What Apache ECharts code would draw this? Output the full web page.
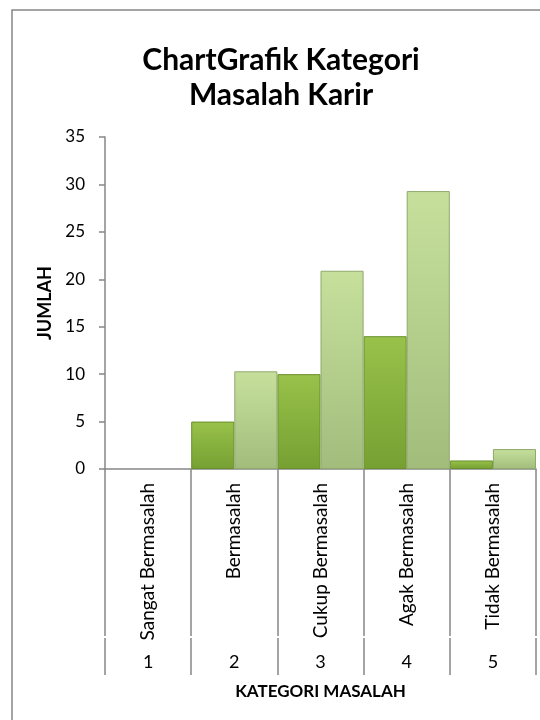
<!DOCTYPE html>
<html>
<head>
<meta charset="utf-8">
<script src="https://cdn.jsdelivr.net/npm/echarts@6/dist/echarts.min.js"></script>
<style>
html,body{margin:0;padding:0;background:#fff;}
#chart{width:540px;height:720px;}
</style>
</head>
<body>
<div id="chart"></div>
<script>
var categoryNames = ['Sangat Bermasalah', 'Bermasalah', 'Cukup Bermasalah', 'Agak Bermasalah', 'Tidak Bermasalah'];
var categoryNumbers = ['1', '2', '3', '4', '5'];
var seriesA = [0, 5, 10, 14, 0.9];
var seriesB = [0, 10.3, 20.9, 29.3, 2.1];
var yTicks = [0, 5, 10, 15, 20, 25, 30, 35];

var FONT = 'Lato, "Liberation Sans", sans-serif';
var AX = '#868686';

function vgrad(top, bottom) {
  return new echarts.graphic.LinearGradient(0, 0, 0, 1, [
    {offset: 0, color: top}, {offset: 1, color: bottom}
  ]);
}
function withStyle(values, top, bottom, border) {
  return values.map(function (v) {
    return {
      value: v,
      itemStyle: {color: vgrad(top, bottom), borderColor: border, borderWidth: v > 0 ? 1 : 0, opacity: v > 0 ? 1 : 0}
    };
  });
}

var chart = echarts.init(document.getElementById('chart'), null, {renderer: 'canvas'});
chart.setOption({
  animation: false,
  backgroundColor: '#fff',
  title: {
    text: 'ChartGrafik Kategori\nMasalah Karir',
    left: 276, textAlign: 'center', top: 38,
    textStyle: {fontFamily: FONT, fontWeight: 'bold', fontSize: 30, lineHeight: 35, color: '#000'}
  },
  graphic: [{
    type: 'rect', silent: true,
    shape: {x: 12, y: 10, width: 600, height: 800},
    style: {fill: 'none', stroke: AX, lineWidth: 1.5}
  }],
  grid: {left: 105, right: 4, top: 137, bottom: 251, containLabel: false},
  yAxis: {
    type: 'value', min: yTicks[0], max: yTicks[yTicks.length - 1], interval: 5,
    name: 'JUMLAH', nameLocation: 'middle', nameGap: 47, nameRotate: 90,
    nameTextStyle: {fontFamily: FONT, fontWeight: 'bold', fontSize: 18, color: '#000'},
    axisLine: {show: true, lineStyle: {color: AX, width: 1.5}},
    axisTick: {show: true, length: 6, lineStyle: {color: AX, width: 1.5}},
    splitLine: {show: false},
    axisLabel: {margin: 20, fontFamily: FONT, fontSize: 17, color: '#000'}
  },
  xAxis: [{
    type: 'category', data: categoryNames, position: 'bottom',
    axisLine: {show: true, lineStyle: {color: AX, width: 1.5}},
    axisTick: {show: true, length: 167, interval: 0, lineStyle: {color: AX, width: 1.5}},
    axisLabel: {interval: 0, rotate: 90, margin: 14, fontFamily: FONT, fontSize: 19, color: '#000'}
  }, {
    type: 'category', data: categoryNumbers, position: 'bottom', offset: 169,
    name: 'KATEGORI MASALAH', nameLocation: 'middle', nameGap: 45,
    nameTextStyle: {fontFamily: FONT, fontWeight: 'bold', fontSize: 17, color: '#000'},
    axisLine: {show: false},
    axisTick: {show: true, length: 37, interval: 0, lineStyle: {color: AX, width: 1.5}},
    axisLabel: {interval: 0, margin: 15, fontFamily: FONT, fontSize: 18, color: '#000'}
  }],
  series: [{
    type: 'bar', xAxisIndex: 0,
    data: withStyle(seriesA, '#98c24a', '#76a032', '#6a8f2c'),
    barGap: '0%', barCategoryGap: '0%'
  }, {
    type: 'bar', xAxisIndex: 0,
    data: withStyle(seriesB, '#c6e09c', '#a2bc7c', '#8fa86c'),
    barGap: '0%', barCategoryGap: '0%'
  }]
});
</script>
</body>
</html>
